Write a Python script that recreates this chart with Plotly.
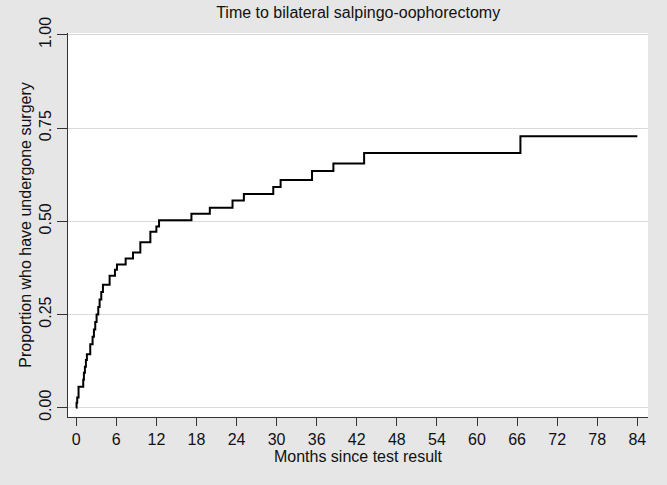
import plotly.graph_objects as go

# Kaplan-Meier style cumulative proportion
months = [0, 0.05, 0.15, 0.35, 1.05, 1.15, 1.3, 1.45, 1.6, 2.1,
          2.45, 2.65, 2.85, 3.05, 3.3, 3.5, 3.75, 4.0,
          5.0, 5.8, 6.1, 7.4, 8.5, 9.6, 11.1, 12.0, 12.4,
          17.25, 20.0, 23.4, 25.1, 29.5, 30.6, 35.3, 38.5, 43.1, 66.5, 84.0]
proportion = [0, 0.013, 0.027, 0.056, 0.075, 0.094, 0.11, 0.128, 0.143, 0.17,
              0.19, 0.21, 0.23, 0.25, 0.27, 0.29, 0.31, 0.33,
              0.354, 0.370, 0.384, 0.40, 0.416, 0.444, 0.472, 0.486, 0.503,
              0.520, 0.536, 0.556, 0.573, 0.592, 0.611, 0.635, 0.655, 0.683, 0.728, 0.728]

x_ticks = list(range(0, 85, 6))
y_ticks = [0, 0.25, 0.5, 0.75, 1.0]
y_tick_labels = ["0.00", "0.25", "0.50", "0.75", "1.00"]

font_family = "Liberation Sans, Arial, Helvetica, sans-serif"

fig = go.Figure()
fig.add_trace(go.Scatter(
    x=months, y=proportion, mode="lines",
    line=dict(shape="hv", color="black", width=2),
    showlegend=False, hoverinfo="skip",
))

fig.update_layout(
    width=667, height=485,
    margin=dict(l=68, r=19, t=33, b=68),
    paper_bgcolor="#e6e6e6",
    plot_bgcolor="white",
    font=dict(family=font_family, size=16, color="#111"),
    title=dict(text="Time to bilateral salpingo-oophorectomy",
               x=0.537, xanchor="center", y=0.985, yanchor="top",
               font=dict(size=16, color="#111")),
)

fig.update_xaxes(
    range=[-1.23, 85.6],
    tickvals=x_ticks,
    ticks="outside", ticklen=8, tickcolor="#333", tickwidth=1,
    showline=True, linecolor="#333", linewidth=1,
    showgrid=False, zeroline=False,
    automargin=False,
    tickfont=dict(size=16),
    title=dict(text="Months since test result", standoff=0, font=dict(size=16)),
)

fig.update_yaxes(
    range=[-0.025, 1.005],
    tickvals=y_ticks, ticktext=y_tick_labels,
    tickangle=-90,
    ticks="outside", ticklen=10, tickcolor="#333", tickwidth=1,
    showline=True, linecolor="#333", linewidth=1,
    showgrid=True, gridcolor="#dadada", gridwidth=1,
    zeroline=False,
    automargin=False,
    tickfont=dict(size=16),
    title=dict(text="Proportion who have undergone surgery", standoff=0, font=dict(size=16)),
)

fig.write_html(
    "out.html",
    config={"displayModeBar": False},
    post_script="document.body.style.margin='0';document.body.style.background='#e6e6e6';",
)
